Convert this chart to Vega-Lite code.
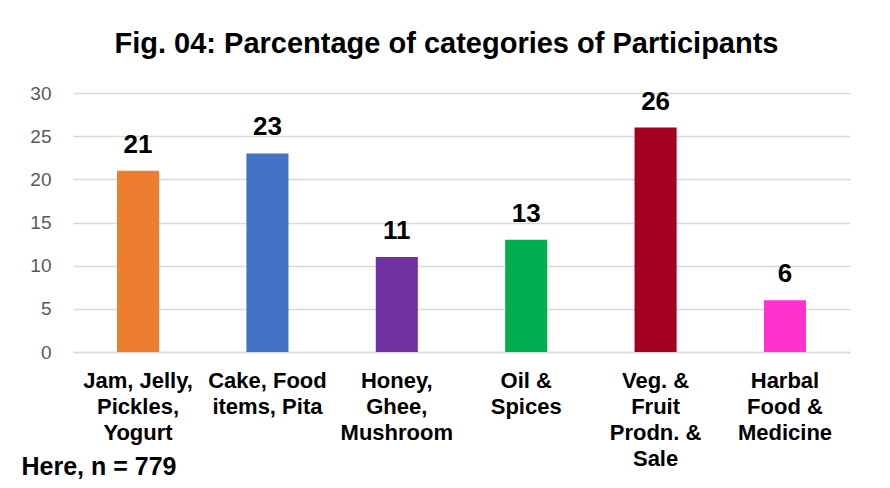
{
  "$schema": "https://vega.github.io/schema/vega-lite/v6.json",
  "width": 777,
  "height": 259,
  "autosize": "none",
  "padding": {"left": 73, "top": 93, "right": 40, "bottom": 136},
  "background": "white",
  "title": {
    "text": "Fig. 04: Parcentage of categories of Participants",
    "font": "Liberation Sans",
    "fontSize": 29,
    "fontWeight": "bold",
    "color": "#000000",
    "anchor": "middle",
    "dx": -15,
    "offset": 25
  },
  "data": {
    "values": [
      {"category": "Jam, Jelly,\nPickles,\nYogurt", "value": 21},
      {"category": "Cake, Food\nitems, Pita", "value": 23},
      {"category": "Honey,\nGhee,\nMushroom", "value": 11},
      {"category": "Oil &\nSpices", "value": 13},
      {"category": "Veg. &\nFruit\nProdn. &\nSale", "value": 26},
      {"category": "Harbal\nFood &\nMedicine", "value": 6}
    ]
  },
  "encoding": {
    "x": {
      "field": "category",
      "type": "nominal",
      "sort": null,
      "scale": {"paddingInner": 0.675, "paddingOuter": 0.34},
      "axis": {
        "title": "Here, n = 779",
        "titleFont": "Liberation Sans",
        "titleFontSize": 25,
        "titleFontWeight": "bold",
        "titleColor": "#000000",
        "titleAnchor": "start",
        "titleAlign": "left",
        "titleBaseline": "middle",
        "titleX": -52,
        "titleY": 114,
        "labelExpr": "split(datum.label, '\\n')",
        "labelAngle": 0,
        "labelFont": "Liberation Sans",
        "labelFontSize": 22,
        "labelFontWeight": "bold",
        "labelColor": "#000000",
        "labelLineHeight": 26,
        "labelPadding": 28,
        "labelBaseline": "middle",
        "labelLimit": 200,
        "ticks": false,
        "domainColor": "#d9d9d9",
        "domainWidth": 1.5
      }
    },
    "y": {
      "field": "value",
      "type": "quantitative",
      "scale": {"domain": [0, 30]},
      "axis": {
        "title": null,
        "values": [0, 5, 10, 15, 20, 25, 30],
        "labelFont": "Liberation Sans",
        "labelFontSize": 19,
        "labelColor": "#595959",
        "labelPadding": 22,
        "ticks": false,
        "domain": false,
        "gridColor": "#d9d9d9",
        "gridWidth": 1.5
      }
    }
  },
  "layer": [
    {
      "mark": {"type": "bar"},
      "encoding": {
        "color": {
          "field": "category",
          "type": "nominal",
          "sort": null,
          "legend": null,
          "scale": {"range": ["#ED7D31", "#4472C4", "#7030A0", "#00B050", "#A50021", "#FF33CC"]}
        }
      }
    },
    {
      "mark": {
        "type": "text",
        "baseline": "bottom",
        "dy": -13,
        "font": "Liberation Sans",
        "fontSize": 26,
        "fontWeight": "bold",
        "color": "#000000"
      },
      "encoding": {"text": {"field": "value", "type": "quantitative"}}
    }
  ],
  "config": {"view": {"stroke": null}}
}
